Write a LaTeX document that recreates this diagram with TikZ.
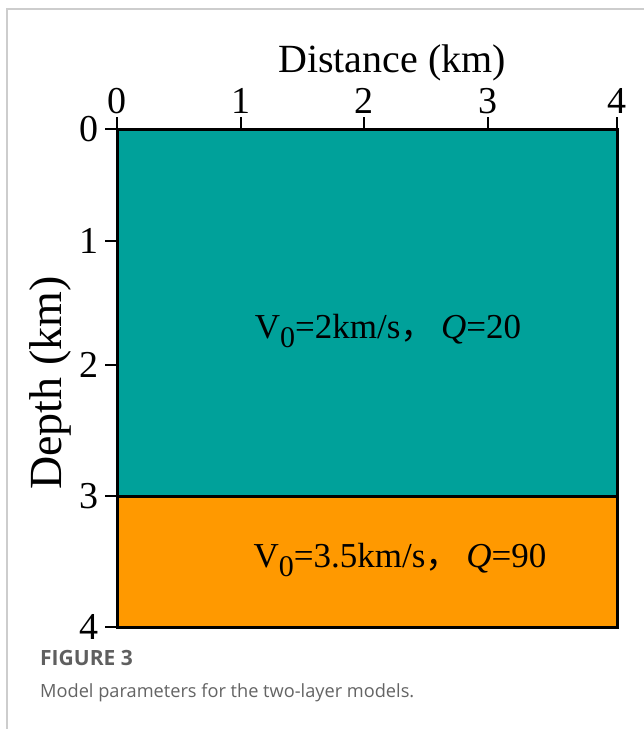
\documentclass[tikz,border=0pt]{standalone}
\usepackage{fontspec}
\setmainfont{Liberation Serif}
\newfontfamily\capfont{Open Sans}
\newfontfamily\cjk{Noto Sans CJK SC}
\definecolor{teallayer}{RGB}{0,161,154}
\definecolor{orangelayer}{RGB}{255,153,0}
\definecolor{framegray}{RGB}{205,205,205}
\definecolor{capgray}{RGB}{95,95,95}
\definecolor{textgray}{RGB}{100,100,100}
\tikzset{
  axisline/.style={line width=3pt, line cap=rect},
  tickline/.style={line width=2.5pt},
  ticklabel/.style={inner sep=0pt, font=\fontsize{38}{40}\selectfont},
  axistitle/.style={inner sep=0pt, font=\fontsize{40}{44}\selectfont},
  layerlabel/.style={inner sep=0pt, font=\fontsize{35}{40}\selectfont},
}
\newcommand{\vsub}{V\raisebox{-0.28em}{\fontsize{30}{30}\selectfont 0}}
\begin{document}
\begin{tikzpicture}[x=1pt,y=-1pt]
\useasboundingbox (0,0) rectangle (644,729);
\fill[white] (0,0) rectangle (644,729);
% card frame
\draw[framegray, line width=1.5pt] (7,729) -- (7,9) -- (644,9);
% layers
\fill[teallayer] (117,129) rectangle (617,496);
\fill[orangelayer] (117,496) rectangle (617,627);
\draw[axisline] (117,129) rectangle (617,627);
\draw[axisline] (117,496) -- (617,496);
% x ticks
\foreach \x/\lab in {117/0,241/1,364/2,488/3,617/4}{
  \draw[tickline] (\x,129) -- (\x,117);
  \node[ticklabel, anchor=base] (xt\lab) at (\x,113) {\lab};
}
% y ticks
\foreach \y/\lab in {129/0,241/1,365/2,496/3,627/4}{
  \draw[tickline] (117,\y) -- (105,\y);
  \node[ticklabel, anchor=east] (yt\lab) at (99,\y) {\lab};
}
\node[axistitle, anchor=base] (xtitle) at (392,72) {Distance (km)};
\node[inner sep=0pt, rotate=90, font=\fontsize{46}{50}\selectfont] (ytitle) at (50,383) {Depth (km)};
% layer labels
\node[layerlabel, anchor=base] (top) at (388,338) {\vsub=2km/s{\cjk ，}\,\textit{Q}=20};
\node[layerlabel, anchor=base] (bottom) at (400,567) {\vsub=3.5km/s{\cjk ，}\,\textit{Q}=90};
% caption
\node[inner sep=0pt, anchor=base west, text=capgray, font=\capfont\bfseries\fontsize{21}{24}\selectfont] (fig) at (40,665) {FIGURE 3};
\node[inner sep=0pt, anchor=base west, text=textgray, font=\capfont\fontsize{18.2}{20}\selectfont] (cap) at (40,697) {Model parameters for the two-layer models.};
\end{tikzpicture}
\end{document}
